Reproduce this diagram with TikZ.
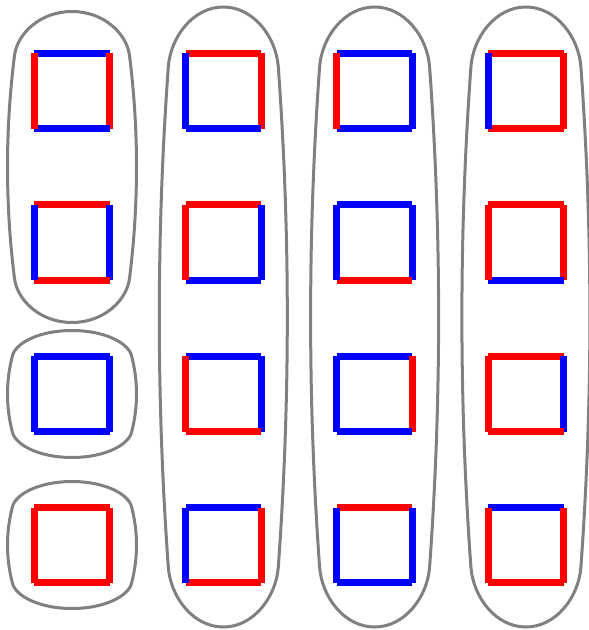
\documentclass[tikz,border=0pt]{standalone}
\usepackage{tikz}
\definecolor{sqred}{HTML}{FF0000}
\definecolor{sqblue}{HTML}{0000FF}
\definecolor{outline}{HTML}{808080}
\tikzset{
  sqside/.style={line width=0.175cm, line cap=butt, draw=#1},
  sqside/.default=sqred,
  grpline/.style={draw=outline, line width=0.075cm, line join=round},
}
% rounded group outline: centre x, centre y, half width, half height, cap depth, shoulder inset
\newcommand{\grpshape}[6]{%
  \draw[grpline] (#1,{#2-#4})
    .. controls ({#1+0.55*(#3-#6)},{#2-#4}) and ({#1+#3-#6-#6*#5/(#4-#5)},{#2-#4+0.5*#5}) .. ({#1+#3-#6},{#2-#4+#5})
    .. controls ({#1+#3-#6/3},{#2-2*(#4-#5)/3}) and ({#1+#3},{#2-(#4-#5)/3}) .. ({#1+#3},#2)
    .. controls ({#1+#3},{#2+(#4-#5)/3}) and ({#1+#3-#6/3},{#2+2*(#4-#5)/3}) .. ({#1+#3-#6},{#2+#4-#5})
    .. controls ({#1+#3-#6-#6*#5/(#4-#5)},{#2+#4-0.5*#5}) and ({#1+0.55*(#3-#6)},{#2+#4}) .. (#1,{#2+#4})
    .. controls ({#1-0.55*(#3-#6)},{#2+#4}) and ({#1-#3+#6+#6*#5/(#4-#5)},{#2+#4-0.5*#5}) .. ({#1-#3+#6},{#2+#4-#5})
    .. controls ({#1-#3+#6/3},{#2+2*(#4-#5)/3}) and ({#1-#3},{#2+(#4-#5)/3}) .. ({#1-#3},#2)
    .. controls ({#1-#3},{#2-(#4-#5)/3}) and ({#1-#3+#6/3},{#2-2*(#4-#5)/3}) .. ({#1-#3+#6},{#2-#4+#5})
    .. controls ({#1-#3+#6+#6*#5/(#4-#5)},{#2-#4+0.5*#5}) and ({#1-0.55*(#3-#6)},{#2-#4}) .. cycle;}

\begin{document}
\begin{tikzpicture}[x=0.025cm, y=-0.025cm]
  \useasboundingbox (0,0) rectangle (589,630);

  % group outlines
  \grpshape{72}{167}{64.5}{155.5}{44}{7}
  \grpshape{72}{394}{64.5}{63.5}{25}{5}
  \grpshape{72}{545}{64.5}{63.5}{25}{5}
  \grpshape{223.3}{317}{64}{310}{60}{9}
  \grpshape{374.6}{317}{64}{310}{60}{9}
  \grpshape{525.9}{317}{64}{310}{60}{9}

  % squares: column/row/top/right/bottom/left
  \foreach \col/\row/\ct/\cr/\cb/\cl in {
    1/1/sqblue/sqred/sqblue/sqred,
    1/2/sqred/sqblue/sqred/sqblue,
    1/3/sqblue/sqblue/sqblue/sqblue,
    1/4/sqred/sqred/sqred/sqred,
    2/1/sqred/sqred/sqblue/sqblue,
    2/2/sqred/sqblue/sqblue/sqred,
    2/3/sqblue/sqblue/sqred/sqred,
    2/4/sqblue/sqred/sqred/sqblue,
    3/1/sqblue/sqblue/sqblue/sqred,
    3/2/sqblue/sqblue/sqred/sqblue,
    3/3/sqblue/sqred/sqblue/sqblue,
    3/4/sqred/sqblue/sqblue/sqblue,
    4/1/sqred/sqred/sqred/sqblue,
    4/2/sqred/sqred/sqblue/sqred,
    4/3/sqred/sqblue/sqred/sqred,
    4/4/sqblue/sqred/sqred/sqred}
  {
    \pgfmathsetmacro{\x}{72+151.3*(\col-1)}
    \pgfmathsetmacro{\y}{91+151.4*(\row-1)}
    \coordinate (sq\col\row) at (\x,\y);
    \draw[sqside=\ct] ({\x-37.7},{\y-37.7}) -- ({\x+37.7},{\y-37.7});
    \draw[sqside=\cr] ({\x+37.7},{\y-37.7}) -- ({\x+37.7},{\y+37.7});
    \draw[sqside=\cb] ({\x-37.7},{\y+37.7}) -- ({\x+37.7},{\y+37.7});
    \draw[sqside=\cl] ({\x-37.7},{\y-37.7}) -- ({\x-37.7},{\y+37.7});
  }
\end{tikzpicture}
\end{document}
